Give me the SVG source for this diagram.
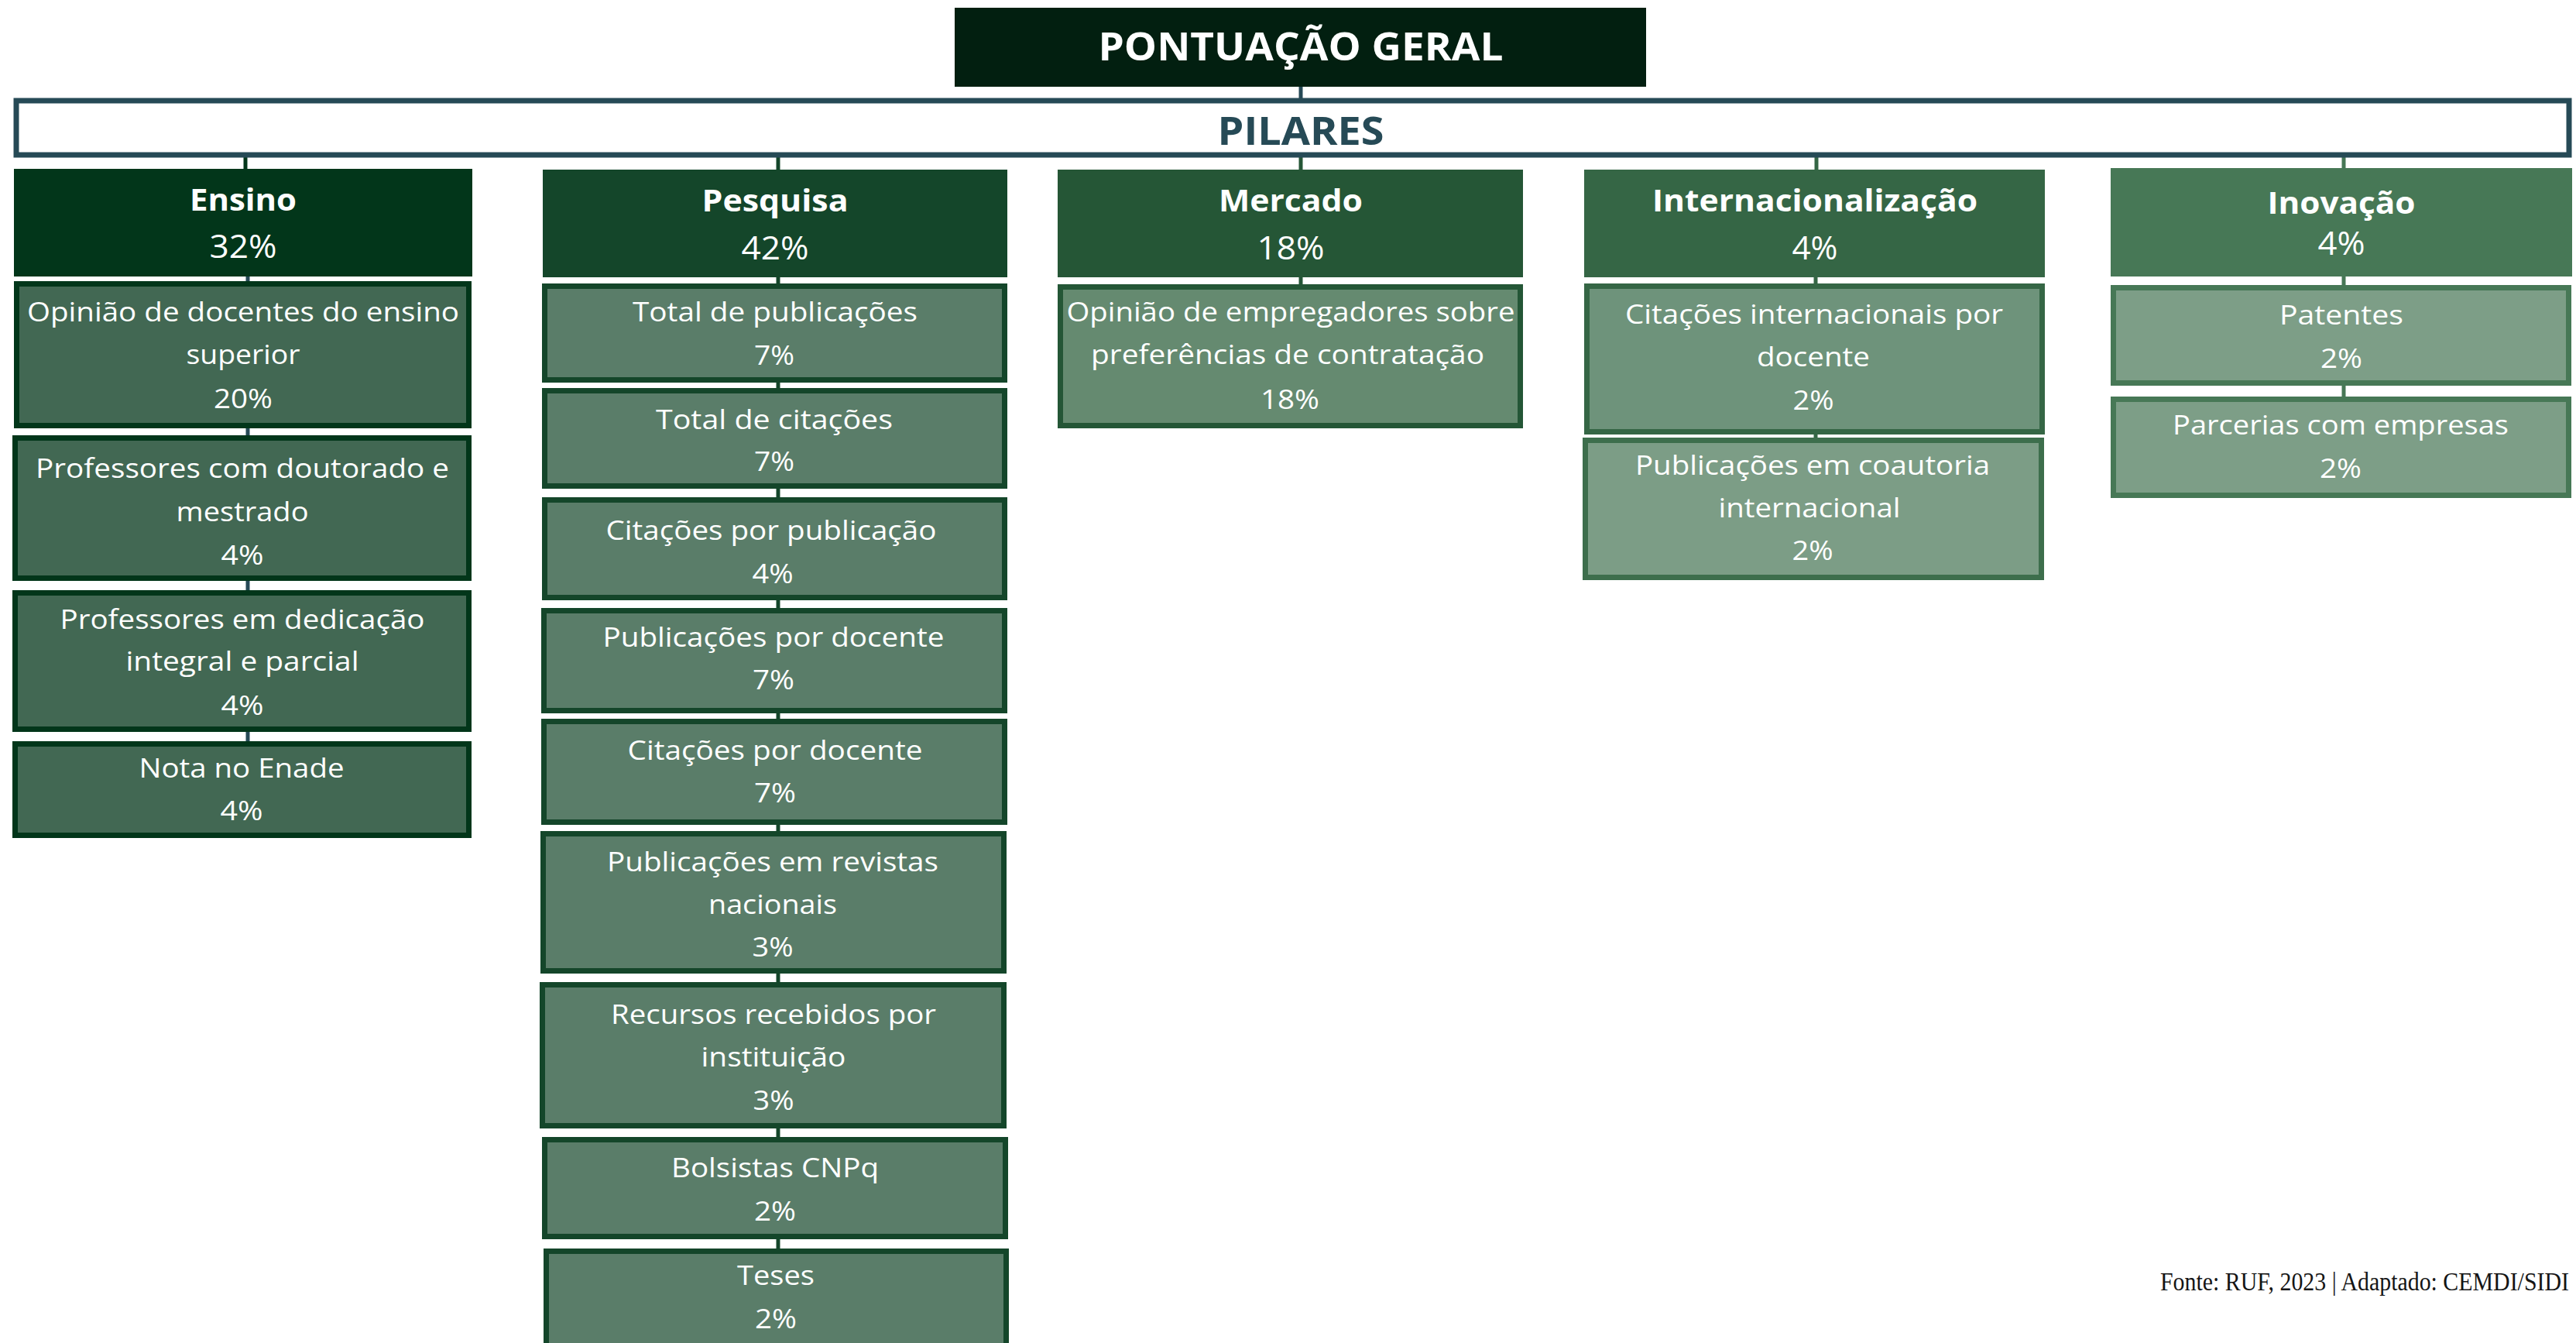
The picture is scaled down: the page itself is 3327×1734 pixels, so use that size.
<svg xmlns="http://www.w3.org/2000/svg" width="3327" height="1734" viewBox="0 0 3327 1734">
<style>
text{font-family:"Open Sans","Noto Sans","DejaVu Sans",sans-serif;text-anchor:middle;fill:#ffffff}
.ttl{font-size:50px;font-weight:700}
.pil{font-size:50px;font-weight:700;fill:#264a56}
.hn{font-size:40px;font-weight:700}
.hp{font-size:42px;font-weight:400}
.it{font-size:35px;font-weight:400}
.src{font-family:"Liberation Serif","Times New Roman",serif;font-size:34px;fill:#151515;text-anchor:end}
.box{stroke-width:7}
.e{fill:#426853;stroke:#02361a}
.p{fill:#5a7d69;stroke:#14462a}
.m{fill:#658a70;stroke:#245636}
.i1{fill:#6e937b;stroke:#356645}
.i2{fill:#7c9d86;stroke:#3d6e4c}
.n{fill:#7d9e87;stroke:#477856}
.cn{stroke-width:5;fill:none}
</style>

<g id="connectors">
<line class="cn" x1="1680" y1="112" x2="1680" y2="128" stroke="#264a56"/>
<line class="cn" x1="317" y1="203" x2="317" y2="219" stroke="#02361a"/>
<line class="cn" x1="1005" y1="203" x2="1005" y2="219" stroke="#14462a"/>
<line class="cn" x1="1680" y1="203" x2="1680" y2="219" stroke="#255636"/>
<line class="cn" x1="2346" y1="203" x2="2346" y2="219" stroke="#356645"/>
<line class="cn" x1="3027" y1="203" x2="3027" y2="219" stroke="#477856"/>
<g stroke="#264a56">
<line class="cn" x1="320" y1="356" x2="320" y2="364"/>
<line class="cn" x1="320" y1="552" x2="320" y2="563"/>
<line class="cn" x1="320" y1="749" x2="320" y2="763"/>
<line class="cn" x1="320" y1="944" x2="320" y2="958"/>
</g>
<g stroke="#14462a">
<line class="cn" x1="1005" y1="357" x2="1005" y2="367"/>
<line class="cn" x1="1005" y1="493" x2="1005" y2="502"/>
<line class="cn" x1="1005" y1="630" x2="1005" y2="643"/>
<line class="cn" x1="1005" y1="774" x2="1005" y2="786"/>
<line class="cn" x1="1005" y1="920" x2="1005" y2="929"/>
<line class="cn" x1="1005" y1="1064" x2="1005" y2="1074"/>
<line class="cn" x1="1005" y1="1256" x2="1005" y2="1269"/>
<line class="cn" x1="1005" y1="1456" x2="1005" y2="1469"/>
<line class="cn" x1="1005" y1="1599" x2="1005" y2="1613"/>
</g>
<line class="cn" x1="1680" y1="357" x2="1680" y2="368" stroke="#245636"/>
<line class="cn" x1="2345" y1="357" x2="2345" y2="367" stroke="#356645"/>
<line class="cn" x1="2345" y1="560" x2="2345" y2="566" stroke="#356645"/>
<line class="cn" x1="3027" y1="356" x2="3027" y2="369" stroke="#477856"/>
<line class="cn" x1="3027" y1="497" x2="3027" y2="513" stroke="#477856"/>
</g>

<g id="title">
<rect x="1233" y="10" width="893" height="102" fill="#021f10"/>
<text class="ttl" x="1680" y="78" textLength="523" lengthAdjust="spacingAndGlyphs">PONTUAÇÃO GERAL</text>
</g>

<g id="pilares">
<rect x="21" y="130" width="3297" height="70" fill="#ffffff" stroke="#264a56" stroke-width="7"/>
<text class="pil" x="1680" y="187" textLength="215" lengthAdjust="spacingAndGlyphs">PILARES</text>
</g>

<g id="ensino">
<rect x="18" y="218" width="592" height="139" fill="#02361a"/>
<text class="hn" x="314" y="272" textLength="138" lengthAdjust="spacingAndGlyphs">Ensino</text>
<text class="hp" x="314" y="333" textLength="87" lengthAdjust="spacingAndGlyphs">32%</text>
</g>
<g id="pesquisa">
<rect x="701" y="219" width="600" height="139" fill="#14462a"/>
<text class="hn" x="1001" y="273" textLength="189" lengthAdjust="spacingAndGlyphs">Pesquisa</text>
<text class="hp" x="1001" y="335" textLength="87" lengthAdjust="spacingAndGlyphs">42%</text>
</g>
<g id="mercado">
<rect x="1366" y="219" width="601" height="139" fill="#255636"/>
<text class="hn" x="1667" y="273" textLength="186" lengthAdjust="spacingAndGlyphs">Mercado</text>
<text class="hp" x="1667" y="335" textLength="87" lengthAdjust="spacingAndGlyphs">18%</text>
</g>
<g id="internacionalizacao">
<rect x="2046" y="219" width="595" height="139" fill="#356645"/>
<text class="hn" x="2344" y="273" textLength="420" lengthAdjust="spacingAndGlyphs">Internacionalização</text>
<text class="hp" x="2344" y="335" textLength="59" lengthAdjust="spacingAndGlyphs">4%</text>
</g>
<g id="inovacao">
<rect x="2726" y="217" width="596" height="140" fill="#477856"/>
<text class="hn" x="3024" y="276" textLength="191" lengthAdjust="spacingAndGlyphs">Inovação</text>
<text class="hp" x="3024" y="329" textLength="61" lengthAdjust="spacingAndGlyphs">4%</text>
</g>

<g id="e1">
<rect class="box e" x="21.5" y="366.5" width="584" height="183"/>
<text class="it" x="314" y="415" textLength="558" lengthAdjust="spacingAndGlyphs">Opinião de docentes do ensino</text>
<text class="it" x="314" y="470" textLength="147" lengthAdjust="spacingAndGlyphs">superior</text>
<text class="it" x="314" y="527" textLength="76" lengthAdjust="spacingAndGlyphs">20%</text>
</g>
<g id="e2">
<rect class="box e" x="19.5" y="565.5" width="586" height="181"/>
<text class="it" x="313" y="617" textLength="534" lengthAdjust="spacingAndGlyphs">Professores com doutorado e</text>
<text class="it" x="313" y="673" textLength="171" lengthAdjust="spacingAndGlyphs">mestrado</text>
<text class="it" x="313" y="729" textLength="55" lengthAdjust="spacingAndGlyphs">4%</text>
</g>
<g id="e3">
<rect class="box e" x="19.5" y="765.5" width="586" height="176"/>
<text class="it" x="313" y="812" textLength="471" lengthAdjust="spacingAndGlyphs">Professores em dedicação</text>
<text class="it" x="313" y="866" textLength="301" lengthAdjust="spacingAndGlyphs">integral e parcial</text>
<text class="it" x="313" y="923" textLength="55" lengthAdjust="spacingAndGlyphs">4%</text>
</g>
<g id="e4">
<rect class="box e" x="19.5" y="960.5" width="586" height="118"/>
<text class="it" x="312" y="1004" textLength="265" lengthAdjust="spacingAndGlyphs">Nota no Enade</text>
<text class="it" x="312" y="1059" textLength="55" lengthAdjust="spacingAndGlyphs">4%</text>
</g>

<g id="p1">
<rect class="box p" x="703.5" y="369.5" width="594" height="121"/>
<text class="it" x="1001" y="415" textLength="368" lengthAdjust="spacingAndGlyphs">Total de publicações</text>
<text class="it" x="1000" y="471" textLength="52" lengthAdjust="spacingAndGlyphs">7%</text>
</g>
<g id="p2">
<rect class="box p" x="703.5" y="504.5" width="594" height="123"/>
<text class="it" x="1000" y="554" textLength="306" lengthAdjust="spacingAndGlyphs">Total de citações</text>
<text class="it" x="1000" y="608" textLength="52" lengthAdjust="spacingAndGlyphs">7%</text>
</g>
<g id="p3">
<rect class="box p" x="703.5" y="645.5" width="594" height="126"/>
<text class="it" x="996" y="697" textLength="427" lengthAdjust="spacingAndGlyphs">Citações por publicação</text>
<text class="it" x="998" y="753" textLength="53" lengthAdjust="spacingAndGlyphs">4%</text>
</g>
<g id="p4">
<rect class="box p" x="702.5" y="788.5" width="595" height="129"/>
<text class="it" x="999" y="835" textLength="441" lengthAdjust="spacingAndGlyphs">Publicações por docente</text>
<text class="it" x="999" y="890" textLength="54" lengthAdjust="spacingAndGlyphs">7%</text>
</g>
<g id="p5">
<rect class="box p" x="702.5" y="931.5" width="595" height="130"/>
<text class="it" x="1001" y="981" textLength="381" lengthAdjust="spacingAndGlyphs">Citações por docente</text>
<text class="it" x="1001" y="1036" textLength="54" lengthAdjust="spacingAndGlyphs">7%</text>
</g>
<g id="p6">
<rect class="box p" x="701.5" y="1076.5" width="595" height="177"/>
<text class="it" x="998" y="1125" textLength="428" lengthAdjust="spacingAndGlyphs">Publicações em revistas</text>
<text class="it" x="998" y="1180" textLength="166" lengthAdjust="spacingAndGlyphs">nacionais</text>
<text class="it" x="998" y="1235" textLength="53" lengthAdjust="spacingAndGlyphs">3%</text>
</g>
<g id="p7">
<rect class="box p" x="700.5" y="1271.5" width="596" height="182"/>
<text class="it" x="999" y="1322" textLength="420" lengthAdjust="spacingAndGlyphs">Recursos recebidos por</text>
<text class="it" x="999" y="1377" textLength="187" lengthAdjust="spacingAndGlyphs">instituição</text>
<text class="it" x="999" y="1433" textLength="53" lengthAdjust="spacingAndGlyphs">3%</text>
</g>
<g id="p8">
<rect class="box p" x="703.5" y="1471.5" width="595" height="125"/>
<text class="it" x="1001" y="1520" textLength="268" lengthAdjust="spacingAndGlyphs">Bolsistas CNPq</text>
<text class="it" x="1001" y="1576" textLength="54" lengthAdjust="spacingAndGlyphs">2%</text>
</g>
<g id="p9">
<rect class="box p" x="705.5" y="1615.5" width="594" height="130"/>
<text class="it" x="1002" y="1659" textLength="100" lengthAdjust="spacingAndGlyphs">Teses</text>
<text class="it" x="1002" y="1715" textLength="54" lengthAdjust="spacingAndGlyphs">2%</text>
</g>

<g id="m1">
<rect class="box m" x="1369.5" y="370.5" width="594" height="179"/>
<text class="it" x="1667" y="415" textLength="579" lengthAdjust="spacingAndGlyphs">Opinião de empregadores sobre</text>
<text class="it" x="1663" y="470" textLength="508" lengthAdjust="spacingAndGlyphs">preferências de contratação</text>
<text class="it" x="1666" y="528" textLength="76" lengthAdjust="spacingAndGlyphs">18%</text>
</g>

<g id="i1">
<rect class="box i1" x="2049.5" y="369.5" width="588" height="188"/>
<text class="it" x="2343" y="418" textLength="488" lengthAdjust="spacingAndGlyphs">Citações internacionais por</text>
<text class="it" x="2342" y="473" textLength="146" lengthAdjust="spacingAndGlyphs">docente</text>
<text class="it" x="2342" y="529" textLength="53" lengthAdjust="spacingAndGlyphs">2%</text>
</g>
<g id="i2">
<rect class="box i2" x="2047.5" y="568.5" width="589" height="177"/>
<text class="it" x="2341" y="613" textLength="458" lengthAdjust="spacingAndGlyphs">Publicações em coautoria</text>
<text class="it" x="2337" y="668" textLength="235" lengthAdjust="spacingAndGlyphs">internacional</text>
<text class="it" x="2341" y="723" textLength="53" lengthAdjust="spacingAndGlyphs">2%</text>
</g>

<g id="n1">
<rect class="box n" x="2729.5" y="371.5" width="588" height="123"/>
<text class="it" x="3024" y="419" textLength="160" lengthAdjust="spacingAndGlyphs">Patentes</text>
<text class="it" x="3024" y="475" textLength="54" lengthAdjust="spacingAndGlyphs">2%</text>
</g>
<g id="n2">
<rect class="box n" x="2729.5" y="515.5" width="588" height="124"/>
<text class="it" x="3023" y="561" textLength="434" lengthAdjust="spacingAndGlyphs">Parcerias com empresas</text>
<text class="it" x="3023" y="617" textLength="54" lengthAdjust="spacingAndGlyphs">2%</text>
</g>

<text id="fonte" class="src" x="3318" y="1666" textLength="528" lengthAdjust="spacingAndGlyphs">Fonte: RUF, 2023 | Adaptado: CEMDI/SIDI</text>
</svg>
